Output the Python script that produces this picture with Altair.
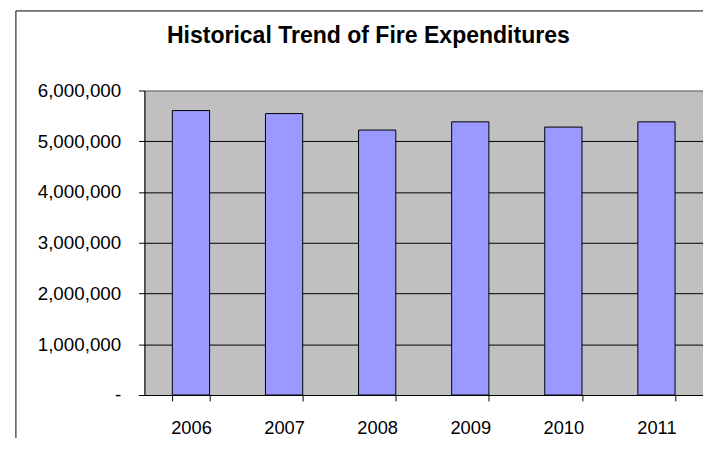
import altair as alt
import pandas as pd

# ---- data ----
years = ["2006", "2007", "2008", "2009", "2010", "2011"]
expenditures = [5605000, 5546000, 5221000, 5383000, 5280000, 5383000]
y_tick_values = [0, 1000000, 2000000, 3000000, 4000000, 5000000, 6000000]
title_text = "Historical Trend of Fire Expenditures"

df = pd.DataFrame({"year": years, "value": expenditures})
one = pd.DataFrame({"k": [0]})

W, H = 565, 308
FONT = "Liberation Sans"

bars = alt.Chart(df).mark_bar(
    color="#9999FF", stroke="#000000", strokeWidth=1
).encode(
    x=alt.X(
        "year:N", sort=years, title=None,
        scale=alt.Scale(paddingInner=0.6, paddingOuter=0.3),
        axis=alt.Axis(
            labelAngle=0, tickBand="extent", tickSize=6, tickColor="#000000",
            domainColor="#000000", labelFont=FONT, labelFontSize=18.5,
            labelColor="#000000", labelPadding=18, grid=False,
        ),
    ),
    y=alt.Y(
        "value:Q", title=None,
        scale=alt.Scale(domain=[0, 6000000], nice=False),
        axis=alt.Axis(
            values=y_tick_values,
            labelExpr="datum.value == 0 ? '-' : format(datum.value, ',')",
            tickSize=6, tickColor="#000000", domainColor="#000000",
            labelFont=FONT, labelFontSize=19, labelColor="#000000",
            labelPadding=18,
            grid=True,
            gridColor={"condition": {"test": "datum.value === 6000000", "value": "#808080"},
                       "value": "#000000"},
            gridWidth=1,
        ),
    ),
)

frame_left = alt.Chart(one).mark_rule(color="#000000", strokeWidth=1).encode(
    x=alt.value(-130), y=alt.value(-80.5), y2=alt.value(H + 200)
)
frame_top = alt.Chart(one).mark_rule(color="#000000", strokeWidth=1).encode(
    x=alt.value(-130), x2=alt.value(W + 200), y=alt.value(-80.5)
)

chart = alt.layer(frame_left, frame_top, bars).properties(
    width=W, height=H,
    background="#FFFFFF",
    title=alt.TitleParams(
        title_text, font=FONT, fontSize=23.3, fontWeight="bold", color="#000000",
        anchor="middle", dx=-56, offset=-56, baseline="alphabetic",
    ),
    autosize=alt.AutoSizeParams(type="none"),
    padding={"left": 138, "top": 81, "right": 0, "bottom": 41},
).configure_view(
    stroke="#808080", fill="#C0C0C0", strokeWidth=1
)

chart.save("out.html", embed_options={"renderer": "svg", "actions": False})
